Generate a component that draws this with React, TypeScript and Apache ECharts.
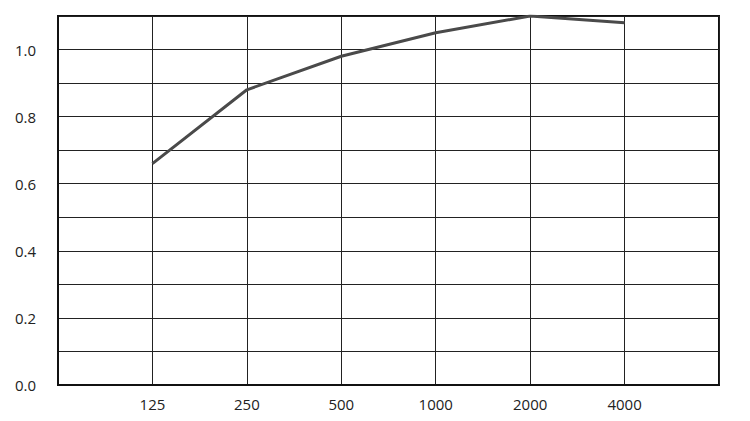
import { useEffect, useRef } from "react";
import * as echarts from "echarts";

const frequencies = ["", "125", "250", "500", "1000", "2000", "4000", ""];
const absorption = [null, 0.66, 0.88, 0.98, 1.05, 1.1, 1.08, null];
const yTicks = [0, 0.2, 0.4, 0.6, 0.8, 1.0];

export default function App() {
  const ref = useRef<HTMLDivElement | null>(null);

  useEffect(() => {
    if (!ref.current) return;
    const chart = echarts.init(ref.current, undefined, { renderer: "svg" });
    const font = "'Open Sans', 'DejaVu Sans', sans-serif";

    chart.setOption({
      animation: false,
      backgroundColor: "#fff",
      grid: {
        left: 58,
        top: 16,
        right: 31,
        bottom: 36,
        show: true,
        borderColor: "#111",
        borderWidth: 2,
      },
      xAxis: {
        type: "category",
        data: frequencies,
        boundaryGap: false,
        axisLine: { lineStyle: { color: "#111", width: 2 } },
        axisTick: { show: false },
        axisLabel: { color: "#222", fontSize: 15, fontFamily: font, margin: 11 },
        splitLine: { show: true, lineStyle: { color: "#222", width: 1 } },
      },
      yAxis: {
        type: "value",
        min: 0,
        max: 1.1,
        interval: 0.1,
        axisLine: { show: true, lineStyle: { color: "#111", width: 2 } },
        axisTick: { show: false },
        axisLabel: {
          color: "#222",
          fontSize: 15,
          fontFamily: font,
          margin: 22,
          formatter: (v: number) =>
            yTicks.some((t) => Math.abs(t - v) < 1e-6) ? v.toFixed(1) : "",
        },
        splitLine: { lineStyle: { color: "#222", width: 1 } },
      },
      series: [
        {
          type: "line",
          data: absorption,
          symbol: "none",
          lineStyle: { color: "#4a4a4a", width: 3 },
        },
      ],
    });

    return () => chart.dispose();
  }, []);

  return (
    <div
      ref={ref}
      style={{ position: "absolute", left: 0, top: 0, width: 750, height: 421 }}
    />
  );
}
